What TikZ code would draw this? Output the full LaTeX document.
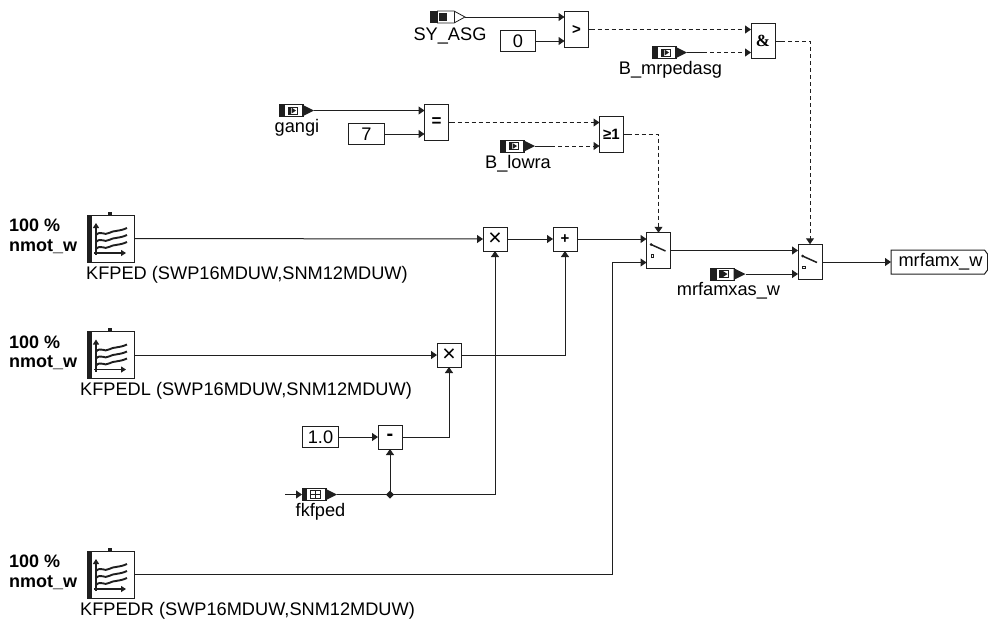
\documentclass[tikz,border=0pt]{standalone}
\usepackage{fontspec}
\setmainfont{Liberation Sans}
\newfontfamily\serifbold[BoldFont={Liberation Serif Bold}]{Liberation Serif}
\usetikzlibrary{arrows.meta,calc}
\definecolor{ln}{gray}{0.12}
\tikzset{
  x=1pt,y=-1pt,
  wire/.style={draw=ln,line width=1pt,-{Triangle[length=6pt,width=8pt]}},
  plainwire/.style={draw=ln,line width=1pt},
  dpad/.style={wire,dash pattern=on #1 off 3pt on 4pt off 3pt on 4pt off 3pt on 4pt off 3pt on 4pt off 3pt on 4pt off 3pt on 4pt off 3pt on 4pt off 3pt on 4pt off 3pt on 4pt off 3pt on 4pt off 3pt on 4pt off 3pt on 4pt off 3pt on 4pt off 3pt on 4pt off 3pt on 4pt off 3pt on 4pt off 3pt on 4pt off 3pt on 4pt off 3pt on 4pt off 3pt on 4pt off 3pt on 4pt off 3pt on 4pt off 3pt on 4pt off 3pt on 4pt off 3pt on 4pt off 3pt on 4pt off 3pt on 4pt off 3pt on 4pt off 3pt on 4pt off 3pt on 4pt off 3pt on 4pt off 3pt on 4pt off 3pt on 4pt off 3pt on 4pt off 3pt on 4pt off 3pt on 4pt off 3pt},
  opbox/.style={draw=ln,line width=1pt,fill=white,minimum width=24pt,minimum height=24pt,inner sep=0pt,outer sep=0pt,font=\fontsize{17}{17}\selectfont\bfseries},
  tallbox/.style={opbox,minimum height=35.5pt},
  constbox/.style={draw=ln,line width=1pt,fill=white,minimum width=35.5pt,minimum height=21pt,inner sep=0pt,outer sep=0pt,font=\fontsize{18.2}{18}\selectfont},
  lbl/.style={inner sep=0pt,font=\fontsize{18.2}{18}\selectfont},
  blbl/.style={inner sep=0pt,align=left,font=\fontsize{18}{19.5}\selectfont\bfseries},
}
\newcommand{\portblack}[3]{%
  \fill[ln] (#2,#3-6) rectangle (#2+6,#3+6);
  \draw[ln,line width=.8pt] (#2,#3-6) rectangle (#2+24,#3+6);
  \fill[ln] (#2+23,#3-6) -- (#2+35,#3) -- (#2+23,#3+6) -- cycle;
  \draw[ln,line width=.8pt] (#2+9,#3-3.5) rectangle (#2+18,#3+3.5);
  \fill[ln] (#2+9,#3-3.5) rectangle (#2+12,#3+3.5);
  \fill[ln] (#2+12.5,#3-3) -- (#2+17,#3) -- (#2+12.5,#3+3) -- cycle;
  \coordinate (#1) at (#2+35,#3);}
\newcommand{\portwhite}[3]{%
  \fill[ln] (#2,#3-6) rectangle (#2+7.5,#3+6);
  \draw[ln,line width=.8pt,fill=white] (#2+7.5,#3-6) -- (#2+24,#3-6) -- (#2+35,#3) -- (#2+24,#3+6) -- (#2+7.5,#3+6) -- cycle;
  \draw[ln,line width=.8pt] (#2+24,#3-6) -- (#2+24,#3+6);
  \fill[ln] (#2+9,#3-4) rectangle (#2+17,#3+4);
  \coordinate (#1) at (#2+35,#3);}
\newcommand{\portfk}[3]{%
  \fill[ln] (#2,#3-6) rectangle (#2+5,#3+6);
  \draw[ln,line width=.8pt] (#2,#3-6) rectangle (#2+24,#3+6);
  \fill[ln] (#2+23,#3-6) -- (#2+35,#3) -- (#2+23,#3+6) -- cycle;
  \draw[ln,line width=.8pt] (#2+8,#3-4) rectangle (#2+18,#3+4);
  \draw[ln,line width=.8pt] (#2+13,#3-4) -- (#2+13,#3+4) (#2+8,#3) -- (#2+18,#3);
  \coordinate (#1) at (#2+35,#3);
  \coordinate (#1w) at (#2,#3);}
\newcommand{\kfblock}[3]{%
  \node[draw=ln,line width=1pt,fill=white,minimum width=47pt,minimum height=47pt,inner sep=0pt,outer sep=0pt] (#1) at (#2+23.5,#3+23.5) {};
  \fill[ln] (#2,#3) rectangle (#2+4.5,#3+47);
  \draw[ln,line width=1.4pt] (#2+22,#3) -- (#2+22,#3-2);
  \fill[ln] (#2+20.5,#3-3.5) rectangle (#2+24.5,#3-.5);
  \draw[ln,line width=1.1pt,-{Triangle[length=5pt,width=6pt]}] (#2+9,#3+40) -- (#2+9,#3+8);
  \draw[ln,line width=1.1pt,-{Triangle[length=5pt,width=6pt]}] (#2+7,#3+38) -- (#2+39,#3+38);
  \draw[ln,line width=1.9pt] (#2+9,#3+20) .. controls (#2+14,#3+15) and (#2+17,#3+21) .. (#2+22,#3+18) .. controls (#2+27,#3+15) and (#2+31,#3+17) .. (#2+40,#3+13);
  \draw[ln,line width=1.9pt] (#2+9,#3+27) .. controls (#2+14,#3+22) and (#2+17,#3+28) .. (#2+22,#3+25) .. controls (#2+27,#3+22) and (#2+31,#3+24) .. (#2+40,#3+20);
  \draw[ln,line width=1.9pt] (#2+9,#3+34) .. controls (#2+14,#3+29) and (#2+17,#3+35) .. (#2+22,#3+32) .. controls (#2+27,#3+29) and (#2+31,#3+31) .. (#2+40,#3+27);}
\newcommand{\switchicon}[1]{%
  \draw[ln,line width=1.5pt] ($(#1.center)+(-7.5,-6)$) -- ($(#1.center)+(7,0.5)$);
  \fill[ln] ($(#1.center)+(-7.5,-6)$) circle (1.5);
  \draw[ln,line width=.8pt] ($(#1.center)+(-7.3,4)$) rectangle ($(#1.center)+(-4.8,6.5)$);}
\begin{document}
\begin{tikzpicture}
\useasboundingbox (0,0) rectangle (988,622);
% ---- ports
\portwhite{sy}{430}{17}
\node[lbl] (sylab) at (450,35.5) {SY\_ASG};
\portblack{gangi}{279}{110.5}
\node[lbl] (gangilab) at (297,128) {gangi};
\portblack{lowra}{500}{146}
\node[lbl] (lowralab) at (518,163.5) {B\_lowra};
\portblack{mrped}{652}{52.5}
\node[lbl] (mrpedlab) at (670.5,70) {B\_mrpedasg};
\portblack{mras}{710.5}{274}
\node[lbl] (mraslab) at (728.5,291) {mrfamxas\_w};
\portfk{fk}{302}{494.5}
\node[lbl] (fklab) at (320.5,512) {fkfped};
\coordinate (fkstub) at (285,494.5);
% ---- constants
\node[constbox] (c0) at (518,41) {0};
\node[constbox] (c7) at (366.5,134) {7};
\node[constbox] (c1) at (320.5,437) {1.0};
% ---- operators
\node[tallbox,font=\fontsize{15}{15}\selectfont\bfseries] (gt) at (576.5,29.5) {>};
\node[tallbox,font=\fontsize{17}{17}\selectfont\bfseries] (eq) at (436.5,122.5) {=};
\node[tallbox,font=\fontsize{15}{15}\selectfont\bfseries] (ge) at (611.5,134.5) {≥1};
\node[tallbox,font=\fontsize{17}{17}\selectfont\serifbold\bfseries] (and) at (763,41) {\&};
\node[opbox,font=\fontsize{23}{23}\selectfont] (m1) at (495,239) {×};
\node[opbox,font=\fontsize{15}{15}\selectfont\bfseries] (pl) at (565,239) {+};
\node[opbox,font=\fontsize{23}{23}\selectfont] (m2) at (449,355) {×};
\node[opbox,font=\fontsize{20}{20}\selectfont\bfseries] (mi) at (390,437) {-};
\node[tallbox] (sw1) at (658.5,250.5) {};
\node[tallbox] (sw2) at (810,262) {};
\switchicon{sw1}
\switchicon{sw2}
% ---- map blocks
\kfblock{kf1}{87}{215}
\kfblock{kf2}{87}{331.5}
\kfblock{kf3}{87}{551}
\node[blbl,anchor=west] (t1) at (9,236.5) {100 \%\\nmot\_w};
\node[blbl,anchor=west] (t2) at (9,353) {100 \%\\nmot\_w};
\node[blbl,anchor=west] (t3) at (9,572.5) {100 \%\\nmot\_w};
\node[lbl,anchor=west] (l1) at (86,275) {KFPED (SWP16MDUW,SNM12MDUW)};
\node[lbl,anchor=west] (l2) at (80,391) {KFPEDL (SWP16MDUW,SNM12MDUW)};
\node[lbl,anchor=west] (l3) at (80,611) {KFPEDR (SWP16MDUW,SNM12MDUW)};
% ---- output
\node[lbl,minimum width=97pt,minimum height=24pt,outer sep=0pt] (out) at (939.5,262) {\hspace{2pt}mrfamx\_w};
\draw[ln,line width=1pt] (out.north west) -- (984.5,250) -- (987.5,254) -- (987.5,270) -- (984.5,274) -- (out.south west) -- cycle;
% ---- junction
\coordinate (dot) at (390,494.5);
\fill[ln] (dot) +(-4,0) -- +(0,-4) -- +(4,0) -- +(0,4) -- cycle;
% ---- wires: top logic
\draw[wire] (sy) -- (sy -| gt.west);
\draw[wire] (c0.east) -- (c0.east -| gt.west);
\draw[dpad=6pt] (gt.east) -- (gt.east -| and.west);
\draw[dpad=20pt] (mrped) -- (mrped -| and.west);
\draw[dpad=10pt] (and.east) -| (sw2.north);
\draw[wire] (gangi) -- (gangi -| eq.west);
\draw[wire] (c7.east) -- (c7.east -| eq.west);
\draw[dpad=6pt] (eq.east) -- (eq.east -| ge.west);
\draw[dpad=20pt] (lowra) -- (lowra -| ge.west);
\draw[dpad=8pt] (ge.east) -| (sw1.north);
% ---- wires: signal path
\draw[wire] (kf1.east) -- (m1.west);
\draw[wire] (m1.east) -- (pl.west);
\draw[wire] (pl.east) -- (pl.east -| sw1.west);
\draw[wire] (kf2.east) -- (m2.west);
\draw[wire] (m2.east) -| (pl.south);
\draw[wire] (kf3.east) -- (612,574.5) -- (612,262.5) -- (612,262.5 -| sw1.west);
\draw[wire] (c1.east) -- (mi.west);
\draw[wire] (mi.east) -| (m2.south);
\draw[wire] (fkstub) -- (fkw);
\draw[plainwire,line width=1.4pt] (fk) -- (dot);
\draw[wire] (dot) -- (mi.south);
\draw[wire] (dot) -| (m1.south);
\draw[wire] (sw1.east) -- (sw1.east -| sw2.west);
\draw[wire] (mras) -- (mras -| sw2.west);
\draw[wire] (sw2.east) -- (out.west);
\end{tikzpicture}
\end{document}
